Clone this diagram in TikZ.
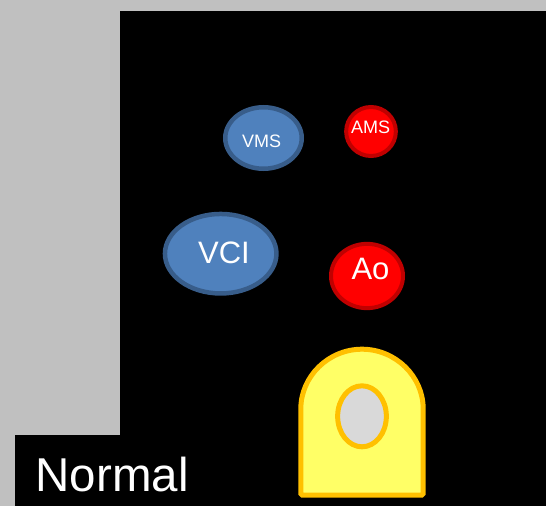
\documentclass[tikz,border=0pt]{standalone}
\usepackage{fontspec}
\setmainfont{Liberation Sans}
\usetikzlibrary{shapes.geometric}
\definecolor{bggray}{HTML}{C0C0C0}
\definecolor{veinfill}{HTML}{4F81BD}
\definecolor{veinline}{HTML}{385D8A}
\definecolor{artfill}{HTML}{FF0000}
\definecolor{artline}{HTML}{C00000}
\definecolor{probefill}{HTML}{FFFF66}
\definecolor{probeline}{HTML}{FFC000}
\definecolor{holefill}{HTML}{D9D9D9}
\tikzset{
  vein/.style={ellipse, inner sep=0pt, fill=veinfill, draw=veinline, line width=4.5pt},
  artery/.style={ellipse, inner sep=0pt, fill=artfill, draw=artline, line width=4pt},
  lbl/.style={text=white, inner sep=0pt, anchor=base},
}
\begin{document}
\begin{tikzpicture}[x=1pt, y=-1pt]
  % canvas
  \fill[bggray] (0,0) rectangle (546,506);
  \path[use as bounding box] (0,0) rectangle (546,506);
  % dark panel with the caption tab
  \fill[black] (120,11) rectangle (546,506);
  \fill[black] (15,435) rectangle (121,506);
  \node[text=white, inner sep=0pt, anchor=base west, font=\fontsize{47.5}{53}\selectfont] (cap) at (35.5,491) {Normal};

  % vessels
  \node[vein, minimum width=76.5pt, minimum height=61.5pt] (vms) at (263.5,138) {};
  \node[artery, minimum width=49.7pt, minimum height=49pt] (ams) at (371,131.5) {};
  \node[vein, minimum width=111.5pt, minimum height=79.5pt] (vci) at (220.7,253.7) {};
  \node[artery, minimum width=72pt, minimum height=64.3pt] (ao) at (367,276) {};

  \node[lbl, font=\fontsize{18}{21}\selectfont] (vmst) at (261.5,147.3) {VMS};
  \node[lbl, font=\fontsize{18}{21}\selectfont] (amst) at (370.7,133.3) {AMS};
  \node[lbl, font=\fontsize{31}{36}\selectfont] (vcit) at (224,263.3) {VCI};
  \node[lbl, font=\fontsize{31}{36}\selectfont] (aot) at (370.5,279.3) {Ao};

  % probe outline with its opening
  \draw[fill=probefill, draw=probeline, line width=5pt, rounded corners=1.5pt]
    (300.8,495.2) -- (300.8,410.4)
    arc[start angle=180, end angle=360, radius=61.2]
    -- (423.2,495.2) -- cycle;
  \node[ellipse, inner sep=0pt, fill=holefill, draw=probeline, line width=5pt,
        minimum width=48.7pt, minimum height=61pt] (hole) at (362,416.3) {};
\end{tikzpicture}
\end{document}
